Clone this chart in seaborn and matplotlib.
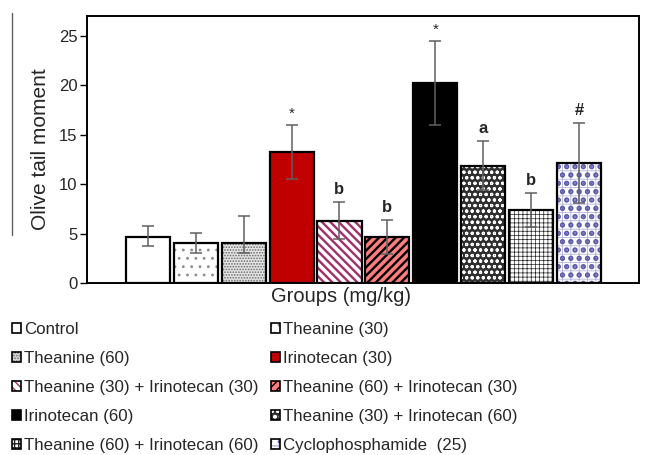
import matplotlib
matplotlib.use("Agg")
import matplotlib.pyplot as plt
from matplotlib.patches import Rectangle, Patch
from matplotlib.lines import Line2D
import seaborn as sns
import pandas as pd

# group names (mg/kg)
groups = ["Control", "Theanine (30)", "Theanine (60)", "Irinotecan (30)",
          "Theanine (30) + Irinotecan (30)", "Theanine (60) + Irinotecan (30)",
          "Irinotecan (60)", "Theanine (30) + Irinotecan (60)",
          "Theanine (60) + Irinotecan (60)", "Cyclophosphamide  (25)"]
means = [4.7, 4.05, 4.0, 13.25, 6.3, 4.65, 20.25, 11.85, 7.35, 12.15]
err_up = [1.05, 1.05, 2.75, 2.7, 1.9, 1.7, 4.25, 2.55, 1.75, 4.05]
err_dn = [1.0, 1.05, 1.0, 2.75, 1.9, 1.7, 4.25, 2.45, 1.7, 4.05]
marks = ["", "", "", "*", "b", "b", "*", "a", "b", "#"]

# fill colour, then hatch layers (pattern, colour, width) per group
faces = ["white", "white", "#e4e4e4", "#c00000", "white", "#ff7c80",
         "black", "#303030", "white", "white"]
hatch_layers = [
    [],
    [("..", "#8a8a8a", 0.8)],
    [("......", "#6a6a6a", 0.8)],
    [],
    [("\\\\\\\\", "#a0306a", 1.7)],
    [("////", "black", 1.7)],
    [],
    [("ooo", "white", 0.8)],
    [("++++", "#222222", 0.5)],
    [("++", "#b4b4e0", 0.6), ("..", "#5a5aa8", 2.6)],
]

df = pd.DataFrame({"group": groups, "value": means})

sns.set_style("white")
plt.rcParams["font.family"] = ["Liberation Sans", "DejaVu Sans"]


def hatch_patch(xy, w, h, pat, col, lw):
    r = Rectangle(xy, w, h, fill=False, hatch=pat, edgecolor=col, linewidth=0)
    r.set_hatch_linewidth(lw)
    return r


fig = plt.figure(figsize=(6.52, 4.55), dpi=100)
ax = fig.add_axes([0.1334, 0.378, 0.8466, 0.587])

sns.barplot(data=df, x="group", y="value", hue="group", palette=faces,
            width=0.92, legend=False, ax=ax, saturation=1)

bars = list(ax.patches)
for i, p in enumerate(bars):
    p.set_linewidth(0)
    for pat, col, lw in hatch_layers[i]:
        ax.add_patch(hatch_patch(p.get_xy(), p.get_width(), p.get_height(),
                                 pat, col, lw))
    # black outline on top
    ax.add_patch(Rectangle(p.get_xy(), p.get_width(), p.get_height(),
                           fill=False, edgecolor="black", linewidth=1.6, zorder=3))

xs = [p.get_x() + p.get_width() / 2 for p in bars]
ax.errorbar(xs, means, yerr=[err_dn, err_up], fmt="none", ecolor="#606060",
            elinewidth=1.1, capsize=4, capthick=1.1, zorder=4)

for x, m, e, t in zip(xs, means, err_up, marks):
    if t == "*":
        ax.text(x, m + e + 0.4, t, ha="center", va="bottom", fontsize=11)
    elif t:
        ax.text(x, m + e + 0.5, t, ha="center", va="bottom", fontsize=12,
                fontweight="bold")

ax.set_xlim(-1.27, 10.25)
ax.set_ylim(0, 27)
ax.set_yticks([0, 5, 10, 15, 20, 25])
ax.set_xticks([])
ax.set_xlabel("")
ax.set_ylabel("Olive tail moment", fontsize=15, labelpad=6)
ax.tick_params(axis="y", direction="out", length=5, width=1, left=True,
               labelsize=12, color="black", pad=2)
for s in ax.spines.values():
    s.set_visible(True)
    s.set_color("black")
    s.set_linewidth(1.4)

fig.text(341 / 652, 1 - 296 / 455, "Groups (mg/kg)", ha="center", va="center",
         fontsize=14.5)

# stray vertical rule at the left of the figure
fig.add_artist(Line2D([12 / 652, 12 / 652], [1 - 13 / 455, 1 - 235 / 455],
                      color="#606060", linewidth=1))

handles = []
for i in range(len(groups)):
    parts = [Patch(facecolor=faces[i], linewidth=0)]
    for pat, col, lw in hatch_layers[i]:
        parts.append(hatch_patch((0, 0), 1, 1, pat, col, lw))
    parts.append(Patch(fill=False, edgecolor="black", linewidth=1.2))
    handles.append(tuple(parts))
order = [0, 2, 4, 6, 8, 1, 3, 5, 7, 9]
fig.legend([handles[i] for i in order], [groups[i] for i in order],
           loc="upper left", bbox_to_anchor=(12 / 652, 1 - 322 / 455),
           ncol=2, frameon=False, fontsize=12.2, handlelength=0.55,
           handleheight=0.55, handletextpad=0.15, columnspacing=0.75,
           labelspacing=0.83, borderaxespad=0, borderpad=0)

fig.savefig("out.png", dpi=100)
